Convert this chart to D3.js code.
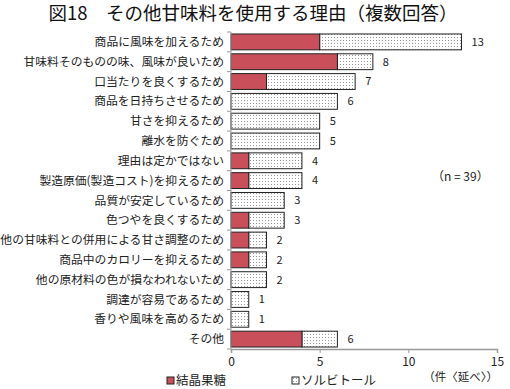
<!DOCTYPE HTML>
<html>
  <head>
    <meta charset="utf-8">
    <title>図18</title>
    <style>
      body { margin: 0; background: #fff; }
      text { font-family: "Noto Sans CJK JP", sans-serif; fill: #222; }
    </style>
  </head>
  <body>
    <script src="https://cdn.jsdelivr.net/npm/d3@7"></script>
    <script>
      var categories = ['商品に風味を加えるため', '甘味料そのものの味、風味が良いため', '口当たりを良くするため',
        '商品を日持ちさせるため', '甘さを抑えるため', '離水を防ぐため', '理由は定かではない',
        '製造原価(製造コスト)を抑えるため', '品質が安定しているため', '色つやを良くするため',
        '他の甘味料との併用による甘さ調整のため', '商品中のカロリーを抑えるため', '他の原材料の色が損なわれないため',
        '調達が容易であるため', '香りや風味を高めるため', 'その他'];
      var fructose = [5, 6, 2, 0, 0, 0, 1, 1, 0, 1, 1, 1, 0, 0, 0, 4];
      var sorbitol = [8, 2, 5, 6, 5, 5, 3, 3, 3, 2, 1, 1, 2, 1, 1, 2];
      var seriesNames = ['結晶果糖', 'ソルビトール'];
      var xTicks = [0, 5, 10, 15];

      var width = 510, height = 389;
      var plotLeft = 231, plotRight = 497, plotTop = 32, plotBottom = 349;

      var svg = d3.select('body').append('svg')
          .attr('width', width)
          .attr('height', height);

      // dotted fill used for sorbitol
      var pat = svg.append('defs').append('pattern')
          .attr('id', 'dots')
          .attr('patternUnits', 'userSpaceOnUse')
          .attr('width', 3).attr('height', 3);
      pat.append('rect').attr('width', 3).attr('height', 3).attr('fill', '#fff');
      pat.append('rect').attr('x', 1).attr('y', 1).attr('width', 1).attr('height', 1).attr('fill', '#999');

      svg.append('text')
          .attr('x', 253).attr('y', 20)
          .attr('text-anchor', 'middle')
          .style('font-size', '18.5px')
          .style('fill', '#111')
          .text('図18　その他甘味料を使用する理由（複数回答）');

      var x = d3.scaleLinear().domain([0, 15]).range([plotLeft, plotRight]);
      var y = d3.scaleBand().domain(categories).range([plotTop, plotBottom]).paddingInner(0.2).paddingOuter(0.1);

      var rows = categories.map(function(c, i) {
        return { cat: c, a: fructose[i], b: sorbitol[i] };
      });

      var g = svg.append('g');
      // sorbitol segment
      g.selectAll('rect.b').data(rows).enter().append('rect')
          .attr('class', 'b')
          .attr('x', function(d) { return x(d.a); })
          .attr('y', function(d) { return y(d.cat); })
          .attr('width', function(d) { return x(d.a + d.b) - x(d.a); })
          .attr('height', y.bandwidth())
          .attr('fill', 'url(#dots)')
          .attr('stroke', '#222')
          .attr('stroke-width', 1);
      // fructose segment
      g.selectAll('rect.a').data(rows.filter(function(d) { return d.a > 0; })).enter().append('rect')
          .attr('class', 'a')
          .attr('x', x(0))
          .attr('y', function(d) { return y(d.cat); })
          .attr('width', function(d) { return x(d.a) - x(0); })
          .attr('height', y.bandwidth())
          .attr('fill', '#c9505a')
          .attr('stroke', '#222')
          .attr('stroke-width', 1);

      // totals
      g.selectAll('text.total').data(rows).enter().append('text')
          .attr('class', 'total')
          .attr('x', function(d) { return x(d.a + d.b) + 10; })
          .attr('y', function(d) { return y(d.cat) + y.bandwidth() / 2; })
          .attr('dy', '0.35em')
          .style('font-size', '11px')
          .text(function(d) { return d.a + d.b; });

      // category axis
      var yAxis = svg.append('g').attr('transform', 'translate(' + plotLeft + ',0)');
      yAxis.append('line')
          .attr('y1', plotTop).attr('y2', plotBottom)
          .attr('stroke', '#999');
      yAxis.selectAll('line.tick').data(d3.range(categories.length + 1)).enter().append('line')
          .attr('class', 'tick')
          .attr('x1', -4).attr('x2', 0)
          .attr('y1', function(i) { return plotTop + i * (plotBottom - plotTop) / categories.length; })
          .attr('y2', function(i) { return plotTop + i * (plotBottom - plotTop) / categories.length; })
          .attr('stroke', '#999');
      yAxis.selectAll('text').data(categories).enter().append('text')
          .attr('x', -7)
          .attr('y', function(d) { return y(d) + y.bandwidth() / 2; })
          .attr('dy', '0.35em')
          .attr('text-anchor', 'end')
          .style('font-size', '11.8px')
          .text(function(d) { return d; });

      var xAxis = svg.append('g')
          .attr('transform', 'translate(0,' + plotBottom + ')')
          .call(d3.axisBottom(x).tickValues(xTicks).tickSize(4).tickPadding(4));
      xAxis.select('.domain').attr('stroke', '#999').attr('stroke-width', 1.5);
      xAxis.selectAll('.tick line').attr('stroke', '#999');
      xAxis.selectAll('.tick text')
          .style('font-size', '12px')
          .style('font-family', '"Noto Sans CJK JP", sans-serif')
          .attr('fill', '#222');

      svg.append('text')
          .attr('x', 498).attr('y', 381)
          .attr('text-anchor', 'end')
          .style('font-size', '11.5px')
          .text('（件〈延べ〉）');

      svg.append('text')
          .attr('x', 432).attr('y', 181)
          .style('font-size', '12px')
          .text('（n = 39）');

      // legend
      var legend = svg.append('g').selectAll('g').data(seriesNames).enter().append('g')
          .attr('transform', function(d, i) { return 'translate(' + (i === 0 ? 167 : 292) + ',380)'; });
      legend.append('rect')
          .attr('x', 0).attr('y', -3)
          .attr('width', 7).attr('height', 7)
          .attr('fill', function(d, i) { return i === 0 ? '#c9505a' : 'url(#dots)'; })
          .attr('stroke', '#222');
      legend.append('text')
          .attr('x', 9).attr('y', 0)
          .attr('dy', '0.38em')
          .style('font-size', '12.5px')
          .text(function(d) { return d; });
    </script>
  </body>
</html>
